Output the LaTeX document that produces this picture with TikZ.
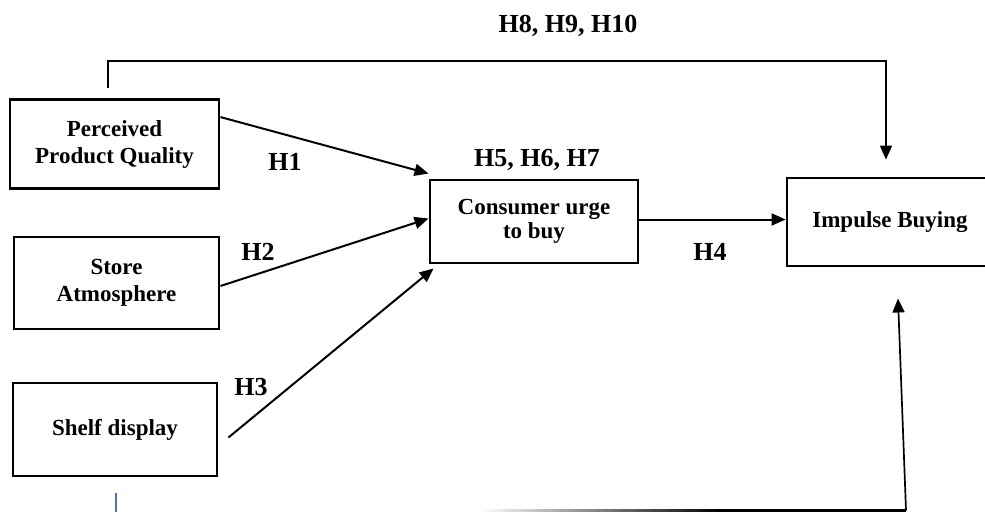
\documentclass[tikz,border=0pt]{standalone}
\usepackage{fontspec}
\setmainfont{Liberation Serif}
\usetikzlibrary{arrows.meta,calc}
\definecolor{cursorblue}{HTML}{4472C4}
\begin{document}
\begin{tikzpicture}[x=1pt,y=-1pt,
  boxnode/.style={draw,line width=2.9pt,align=center,inner sep=0pt,
    font=\fontsize{23}{27}\selectfont\bfseries},
  hlabel/.style={font=\fontsize{26}{28}\selectfont\bfseries,inner sep=0pt},
  conn/.style={line width=2pt,-{Triangle[length=14pt,width=12pt]}},
  thinconn/.style={line width=1.7pt,-{Triangle[length=14pt,width=12pt]}}]
\useasboundingbox (0,0) rectangle (985,512);
\begin{scope}
\clip (0,0) rectangle (985,512);
\node[boxnode,minimum width=209pt,minimum height=89pt] (ppq) at (114.5,144) {Perceived\\Product Quality};
\node[boxnode,minimum width=205pt,minimum height=92pt] (sa) at (116.5,283) {Store\\Atmosphere};
\node[boxnode,minimum width=204pt,minimum height=93pt] (sd) at (115,429.5) {Shelf display};
\node[boxnode,minimum width=208pt,minimum height=83pt,font=\fontsize{23}{24}\selectfont\bfseries] (cub) at (534,221.5) {Consumer urge\\to buy};
\node[boxnode,minimum width=206pt,minimum height=88pt] (ib) at (890,222) {Impulse Buying};

\node[hlabel] (l8) at (568,26) {H8, H9, H10};
\node[hlabel] (l1) at (285,162) {H1};
\node[hlabel] (l5) at (537,160) {H5, H6, H7};
\node[hlabel] (l2) at (258,252) {H2};
\node[hlabel] (l3) at (251,387) {H3};
\node[hlabel] (l4) at (710,252) {H4};

\draw[conn] ($(ppq.north east)+(0,19)$) -- ($(cub.north west)+(0,-5)$);
\draw[conn] ($(sa.east)+(0,3)$) -- ($(cub.west)+(0,-3)$);
\draw[conn] ($(sd.east)+(10,8)$) -- ($(cub.south west)+(5,4)$);
\draw[conn] ($(cub.east)+(0,-2)$) -- ($(cub.east -| ib.west)+(0,-2)$);

\coordinate (topstart) at ($(ppq.north)+(-6.5,-10)$);
\coordinate (topend) at ($(ib.north)+(-4,-17)$);
\draw[thinconn] (topstart) -- (topstart |- 0,61) -- (topend |- 0,61) -- (topend);

\coordinate (botcorner) at (906,510.5);
\shade[left color=white,right color=black] (480,509.2) rectangle (720,511.8);
\fill[black] (719,509.2) rectangle (906,511.8);
\draw[thinconn] (botcorner) -- ($(ib.south)+(8,31)$);

\draw[cursorblue,line width=1.6pt] (116,493) -- (116,512);
\end{scope}
\end{tikzpicture}
\end{document}
